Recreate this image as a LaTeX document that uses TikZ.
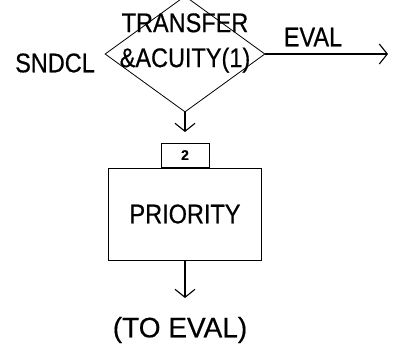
\documentclass[tikz,border=0pt]{standalone}
\usepackage{fontspec}
\setmainfont{Liberation Sans}[FakeBold=0.5]
\newfontfamily\narrowfont{Liberation Sans}[FakeStretch=0.87, FakeBold=0.5]
\usetikzlibrary{shapes.geometric,arrows.meta}

\begin{document}
\begin{tikzpicture}
[x=1pt, y=1pt,
 decision/.style={diamond, draw=black, line width=0.8pt, minimum width=160pt, minimum height=116pt, inner sep=0pt},
 block/.style={rectangle, draw=black, line width=0.8pt, minimum width=153pt, minimum height=92pt, font=\narrowfont\fontsize{27}{30}\selectfont},
 tab/.style={rectangle, draw=black, line width=0.8pt, minimum width=48pt, minimum height=24pt, inner sep=0pt, font=\fontsize{14}{16}\selectfont\bfseries},
 word/.style={font=\narrowfont\fontsize{27}{35}\selectfont, align=center, inner sep=0pt},
 >={Straight Barb[length=8pt,width=20pt]}]

\useasboundingbox (0,0) rectangle (393,-360);

%Nodes
\node[decision] at (185,-54) (xfer) {};
\node[word, yshift=11pt] at (xfer) (xfertext) {TRANSFER\\\&ACUITY(1)};
\node[word, left of=xfer, node distance=130pt, yshift=-9pt] (sndcl) {SNDCL};
\node[word, right of=xfer, node distance=128pt, yshift=17pt] (eval) {EVAL};
\node[coordinate, right of=xfer, node distance=203pt] (evalend) {};
\node[coordinate, below of=xfer, node distance=78pt] (down) {};
\node[tab, below of=xfer, node distance=101pt] (num) {2};
\node[block, below of=num, node distance=59pt] (prio) {PRIORITY};
\node[coordinate, below of=prio, node distance=84pt] (output) {};
\node[word, font=\fontsize{28}{30}\selectfont, below of=prio, node distance=116pt, xshift=-5pt] (toeval) {(TO EVAL)};

%Lines
\draw[->, line width=1.1pt] (xfer.east) -- (evalend);
\draw[->, line width=1.1pt] (xfer.south) -- (down);
\draw[->, line width=1.1pt] (prio.south) -- (output);

\end{tikzpicture}
\end{document}
